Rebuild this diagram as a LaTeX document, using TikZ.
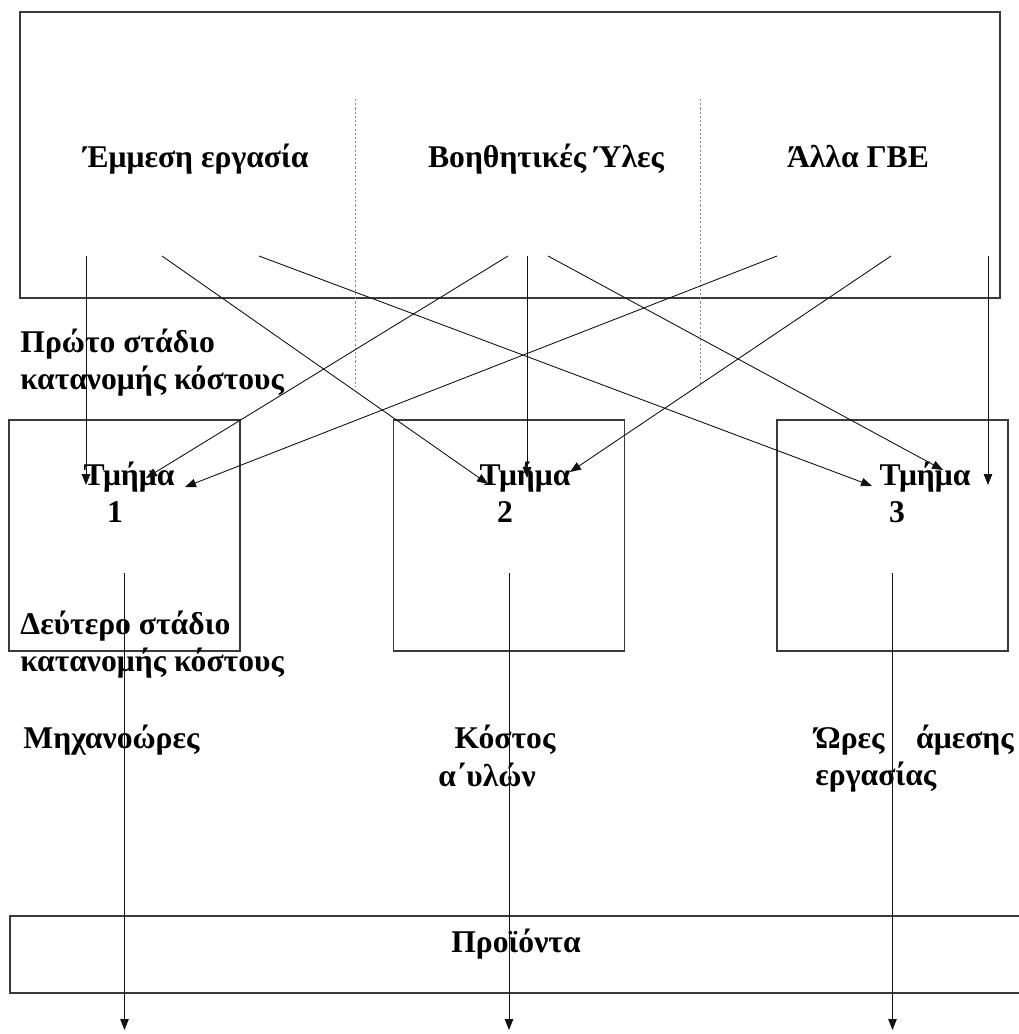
\documentclass[tikz,border=0pt]{standalone}
\usepackage{fontspec}
\setmainfont{Liberation Serif}
\usetikzlibrary{arrows.meta, positioning}
\definecolor{cframe}{HTML}{3A3A3A}
\definecolor{cline}{HTML}{111111}
\definecolor{cdash}{HTML}{8C8C8C}
\tikzset{
  every picture/.style={font=\bfseries\fontsize{18}{21}\selectfont, line width=0.5pt},
  box/.style={draw=cframe, line width=0.9pt, inner sep=0pt, minimum width=#1},
  box/.default=4.62cm,
  arrow/.style={-{Triangle[length=2.2mm, width=1.7mm]}, draw=cline, line width=0.5pt},
  divider/.style={draw=cdash, dash pattern=on 1.2pt off 1.2pt, line width=0.5pt},
  word/.style={inner sep=0pt, anchor=base},
}

\begin{document}
\begin{tikzpicture}[x=0.02cm, y=-0.02cm, lbl/.style={word, anchor=base west, align=left}]
  \useasboundingbox (0,0) rectangle (1018,1034);
  \node[box=19.6cm, minimum height=5.72cm] (pool) at (510,155) {};
  \draw[divider] (355,99) -- (355,387);
  \draw[divider] (700,99) -- (700,387);
  \foreach \w/\x [count=\i] in {Έμμεση εργασία/196, Βοηθητικές Ύλες/546, Άλλα ΓΒΕ/858}
    \node[word] (c\i) at (\x,167) {\w};
  \foreach \x/\tx/\nx [count=\i] in {124.5/129/115, 509/525/505, 892.5/925/897} {
    \node[box, minimum height=4.62cm] (d\i) at (\x,535.5) {};
    \node[word] (t\i) at (\tx,485) {Τμήμα};
    \node[word] (n\i) at (\nx,522) {\i};
    \coordinate (o\i) at (\x,573);
    \coordinate (q\i) at (\x,1030);
  }
  \node[box=20.4cm, minimum height=1.54cm] (prod) at (520,954.5) {};
  \node[word] (pl) at (516,952) {Προϊόντα};
  \node[lbl] (st1) at (20,389) {Πρώτο στάδιο\\κατανομής κόστους};
  \node[lbl] (st2) at (20,671) {Δεύτερο στάδιο\\κατανομής κόστους};
  \node[lbl] (b1) at (23,748) {Μηχανοώρες};
  \node[word] (b2) at (505,748) {Κόστος};
  \node[word] (b2a) at (487,786) {α΄υλών};
  \node[lbl] (b3) at (815,785) {Ώρες\quad άμεσης\\εργασίας};
  \foreach \n/\x in {a/86, b/162, c/259, d/508, e/527, f/548, g/777, h/891, i/988}
    \coordinate (s\n) at (\x,256);
  \foreach \n/\p in {1a/{86,485}, 2a/{488,484}, 3a/{872,486}, 1b/{146,478}, 2b/{527,478}, 3b/{943,470}, 1c/{185,487}, 2c/{570,472}, 3c/{988,485}}
    \coordinate (e\n) at (\p);
  \foreach \s/\t in {a/1a, b/2a, c/3a, d/1b, e/2b, f/3b, g/1c, h/2c, i/3c}
    \draw[arrow] (s\s) -- (e\t);
  \foreach \i in {1,2,3}
    \draw[arrow] (o\i) -- (q\i);
\end{tikzpicture}
\end{document}
